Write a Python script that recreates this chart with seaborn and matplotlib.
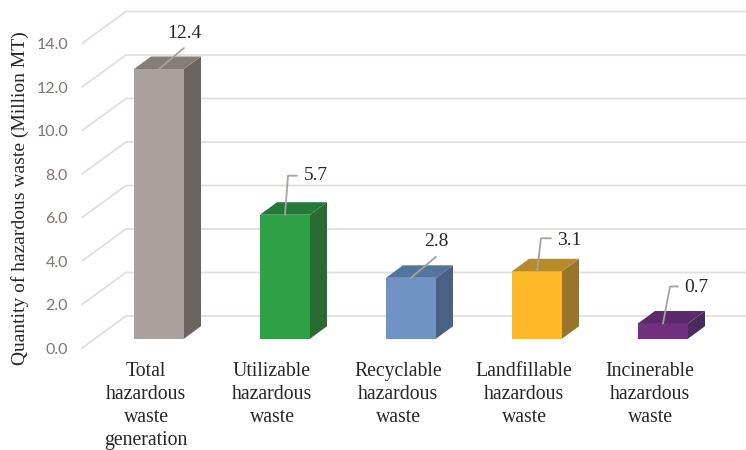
import matplotlib
matplotlib.use('Agg')
import matplotlib.pyplot as plt
from matplotlib.patches import Polygon
from matplotlib.transforms import ScaledTranslation
import pandas as pd
import seaborn as sns

# data -----------------------------
categories = ['Total\nhazardous\nwaste\ngeneration', 'Utilizable\nhazardous\nwaste',
              'Recyclable\nhazardous\nwaste', 'Landfillable\nhazardous\nwaste',
              'Incinerable\nhazardous\nwaste']
values = [12.4, 5.7, 2.8, 3.1, 0.7]
y_ticks = [0, 2, 4, 6, 8, 10, 12, 14]

# colours of each box: front, side, top
front_colors = ['#A9A19D', '#2EA147', '#6F94C4', '#FDB927', '#722F80']
side_colors = ['#6B635E', '#2A6B31', '#4A6184', '#97752A', '#4B2A5E']
top_colors = ['#857D78', '#237A38', '#53749F', '#B88A2A', '#5A2A6B']

# scale of the picture, pixels per unit
W, H = 746, 450
PX_X = 126
PX_Y = 21.75
AX_LEFT, AX_BOTTOM = 82, 338.7
BAR_X0 = 159

# pixel offsets from the middle of the bar top: leader elbow, leader end, text anchor
leaders = [[(25, -21), (25, -21), (25, -35)],
           [(3, -39), (12, -39), (19, -39)],
           [(25, -21), (25, -21), (25, -36)],
           [(4, -33), (14, -33), (20, -31)],
           [(7, -37), (15, -37), (21, -36)]]
label_ha = ['center', 'left', 'center', 'left', 'left']

sns.set_style('white')
fig = plt.figure(figsize=(W / 100, H / 100), dpi=100)
ax = fig.add_axes([AX_LEFT / W, (H - AX_BOTTOM) / H, (W - AX_LEFT) / W, AX_BOTTOM / H])

df = pd.DataFrame({'category': categories, 'value': values})
sns.barplot(data=df, x='category', y='value', hue='category', palette=front_colors,
            width=50 / PX_X, saturation=1, legend=False, ax=ax, zorder=3, linewidth=0)

ax.set_xlim((AX_LEFT - BAR_X0) / PX_X, (W - BAR_X0) / PX_X)
ax.set_ylim(0, AX_BOTTOM / PX_Y)
for s in ax.spines.values():
    s.set_visible(False)

# depth of the fake 3d boxes
dx = 17 / PX_X
dy = 12.5 / PX_Y

# side and top faces, taken from the bars seaborn drew
for i, bar in enumerate(ax.patches):
    x0, x1 = bar.get_x(), bar.get_x() + bar.get_width()
    h = bar.get_height()
    ax.add_patch(Polygon([(x1, 0), (x1 + dx, dy), (x1 + dx, h + dy), (x1, h)],
                         facecolor=side_colors[i], edgecolor='none', zorder=3))
    ax.add_patch(Polygon([(x0, h), (x0 + dx, h + dy), (x1 + dx, h + dy), (x1, h)],
                         facecolor=top_colors[i], edgecolor='none', zorder=3))

    # leader line and value label
    xc, top = (x0 + x1) / 2, h
    off = leaders[i]
    xs = [xc + off[0][0] / PX_X, xc + off[1][0] / PX_X]
    ys = [top - off[0][1] / PX_Y, top - off[1][1] / PX_Y]
    ax.plot([xc] + xs, [top] + ys, color='#A8A29E', lw=1.3, zorder=5, clip_on=False)
    ax.text(xc + off[2][0] / PX_X, top - off[2][1] / PX_Y, '%.1f' % values[i],
            ha=label_ha[i], va='center', fontsize=14, family='Liberation Serif',
            color='#262626', zorder=6)

# gridlines: wall plus the slanted floor piece
xl, xr = ax.get_xlim()
back_x = xl + 44 / PX_X
for t in y_ticks:
    ax.plot([xl, back_x, xr], [t - 9.3 / PX_Y, t + 22.7 / PX_Y, t + 22.7 / PX_Y],
            color='#E5DDDA', lw=1.3, zorder=1, clip_on=False)

# ticks
ax.set_yticks(y_ticks)
ax.set_yticklabels(['%.1f' % t for t in y_ticks], family='Lato', fontsize=11.5, color='#7F7472')
ax.tick_params(axis='y', length=0, pad=10)
ax.tick_params(axis='x', length=0, pad=17)
for lab in ax.get_yticklabels():
    lab.set_transform(lab.get_transform() + ScaledTranslation(0, -0.098, fig.dpi_scale_trans))
for lab in ax.get_xticklabels():
    lab.set_family('Liberation Serif')
    lab.set_fontsize(14.2)
    lab.set_color('#262626')
    lab.set_linespacing(1.27)
    lab.set_transform(lab.get_transform() + ScaledTranslation(-0.13, 0, fig.dpi_scale_trans))

ax.set_xlabel('')
ax.set_ylabel('')
fig.text(20 / W, 1 - 198 / H, 'Quantity of hazardous waste (Million MT)', rotation=90,
         ha='center', va='center', family='Liberation Serif', fontsize=14, color='#262626')

fig.savefig('out.png', dpi=100, facecolor='white')
